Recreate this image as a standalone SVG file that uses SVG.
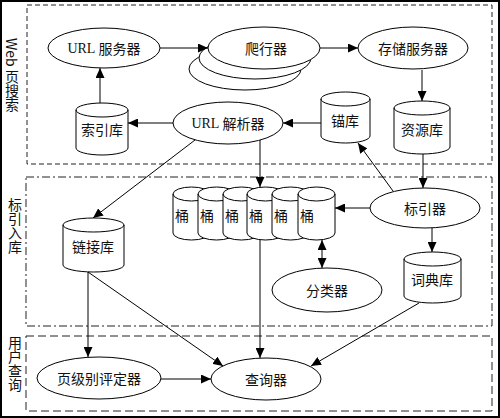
<svg xmlns="http://www.w3.org/2000/svg" width="500" height="418" viewBox="0 0 500 418">
<style>
.sec{fill:none;stroke:#222;stroke-width:1}
.s1{stroke-dasharray:5,3}
.s2{stroke-dasharray:8,3,2,3}
.s3{stroke-dasharray:8,4}
.nd{fill:#fff;stroke:#000;stroke-width:1}
.cap{fill:none;stroke:#000;stroke-width:1}
.t{font-family:"Noto Sans CJK SC","Liberation Sans",sans-serif;font-size:14px;fill:#111;text-anchor:middle;dominant-baseline:central}
.lat{font-family:"Liberation Serif",serif}
.vt{font-family:"Noto Sans CJK SC","Liberation Sans",sans-serif;font-size:14px;fill:#111;writing-mode:vertical-rl}
.c{fill:none;stroke:#000;stroke-width:1}
.a{marker-end:url(#arr)}
.aa{marker-end:url(#arr);marker-start:url(#arr)}
</style>
<defs>
<marker id="arr" viewBox="0 0 10 9" refX="10" refY="4.5" markerWidth="10" markerHeight="9" markerUnits="userSpaceOnUse" orient="auto-start-reverse">
<path d="M0,0 L10,4.5 L0,9 Z" fill="#000"/>
</marker>
</defs>
<rect x="1" y="1" width="498" height="416" fill="#fff" stroke="#000" stroke-width="2"/>

<g id="sections">
<rect class="sec s1" x="27" y="5" width="465" height="159"/>
<rect class="sec s2" x="26" y="177" width="466" height="149"/>
<rect class="sec s3" x="26" y="336" width="466" height="75"/>
<text class="vt" x="12" y="38">Web 页搜索</text>
<text class="vt" x="15" y="198">标引入库</text>
<text class="vt" x="15" y="336">用户查询</text>
</g>

<g id="url-server">
<ellipse class="nd" cx="104" cy="48" rx="56" ry="20"/>
<text class="t" x="104" y="48"><tspan class="lat">URL</tspan> 服务器</text>
</g>
<g id="crawler">
<ellipse class="nd" cx="245" cy="69" rx="56" ry="21"/>
<ellipse class="nd" cx="255" cy="58" rx="56" ry="21"/>
<ellipse class="nd" cx="264" cy="48" rx="56" ry="21"/>
<text class="t" x="266" y="48">爬行器</text>
</g>
<g id="store-server">
<ellipse class="nd" cx="413" cy="48" rx="55" ry="21"/>
<text class="t" x="413" y="48">存储服务器</text>
</g>
<g id="index-db">
<path class="nd" d="M76,110 A26,7 0 0 1 128,110 V148 A26,7 0 0 1 76,148 Z"/>
<path class="cap" d="M76,110 A26,7 0 0 0 128,110"/>
<text class="t" x="102" y="129">索引库</text>
</g>
<g id="url-parser">
<ellipse class="nd" cx="228" cy="123" rx="55" ry="21"/>
<text class="t" x="228" y="123"><tspan class="lat">URL</tspan> 解析器</text>
</g>
<g id="anchor-db">
<path class="nd" d="M321,99 A24.5,7 0 0 1 370,99 V136 A24.5,7 0 0 1 321,136 Z"/>
<path class="cap" d="M321,99 A24.5,7 0 0 0 370,99"/>
<text class="t" x="345" y="120">锚库</text>
</g>
<g id="resource-db">
<path class="nd" d="M394,108 A28,7 0 0 1 450,108 V147 A28,7 0 0 1 394,147 Z"/>
<path class="cap" d="M394,108 A28,7 0 0 0 450,108"/>
<text class="t" x="422" y="129">资源库</text>
</g>
<g id="link-db">
<path class="nd" d="M63,225 A30.5,7 0 0 1 124,225 V265 A30.5,7 0 0 1 63,265 Z"/>
<path class="cap" d="M63,225 A30.5,7 0 0 0 124,225"/>
<text class="t" x="93" y="246">链接库</text>
</g>
<g id="barrels">
<g id="barrel1">
<path class="nd" d="M173,194 A18.5,7 0 0 1 210,194 V233 A18.5,7 0 0 1 173,233 Z"/>
<path class="cap" d="M173,194 A18.5,7 0 0 0 210,194"/>
<text class="t" x="182" y="215">桶</text>
</g>
<g id="barrel2">
<path class="nd" d="M198,194 A18.5,7 0 0 1 235,194 V233 A18.5,7 0 0 1 198,233 Z"/>
<path class="cap" d="M198,194 A18.5,7 0 0 0 235,194"/>
<text class="t" x="207" y="215">桶</text>
</g>
<g id="barrel3">
<path class="nd" d="M223,194 A18.5,7 0 0 1 260,194 V233 A18.5,7 0 0 1 223,233 Z"/>
<path class="cap" d="M223,194 A18.5,7 0 0 0 260,194"/>
<text class="t" x="232" y="215">桶</text>
</g>
<g id="barrel4">
<path class="nd" d="M247,194 A18.5,7 0 0 1 284,194 V233 A18.5,7 0 0 1 247,233 Z"/>
<path class="cap" d="M247,194 A18.5,7 0 0 0 284,194"/>
<text class="t" x="256" y="215">桶</text>
</g>
<g id="barrel5">
<path class="nd" d="M272,194 A18.5,7 0 0 1 309,194 V233 A18.5,7 0 0 1 272,233 Z"/>
<path class="cap" d="M272,194 A18.5,7 0 0 0 309,194"/>
<text class="t" x="281" y="215">桶</text>
</g>
<g id="barrel6">
<path class="nd" d="M298,194 A18.5,7 0 0 1 335,194 V233 A18.5,7 0 0 1 298,233 Z"/>
<path class="cap" d="M298,194 A18.5,7 0 0 0 335,194"/>
<text class="t" x="307" y="215">桶</text>
</g>
</g>
<g id="indexer">
<ellipse class="nd" cx="425" cy="208" rx="55" ry="20"/>
<text class="t" x="425" y="208">标引器</text>
</g>
<g id="lexicon">
<path class="nd" d="M404,259 A28.5,7 0 0 1 461,259 V296 A28.5,7 0 0 1 404,296 Z"/>
<path class="cap" d="M404,259 A28.5,7 0 0 0 461,259"/>
<text class="t" x="432" y="279">词典库</text>
</g>
<g id="sorter">
<ellipse class="nd" cx="327" cy="290" rx="55" ry="22"/>
<text class="t" x="327" y="290">分类器</text>
</g>
<g id="pagerank">
<ellipse class="nd" cx="99" cy="378" rx="62" ry="21"/>
<text class="t" x="99" y="378">页级别评定器</text>
</g>
<g id="searcher">
<ellipse class="nd" cx="266" cy="379" rx="55" ry="21"/>
<text class="t" x="266" y="379">查询器</text>
</g>

<g id="connectors">
<path class="c a" d="M160,48 H208"/>
<path class="c a" d="M320,48 H358"/>
<path class="c a" d="M422,70 V101"/>
<path class="c a" d="M100,103 V68"/>
<path class="c a" d="M173,123 H128"/>
<path class="c a" d="M321,123 H283"/>
<path class="c a" d="M260,140 V187"/>
<path class="c a" d="M195,140 L93,218"/>
<path class="c a" d="M423,154 V188"/>
<path class="c a" d="M393,191 L358,143"/>
<path class="c a" d="M370,208 H335"/>
<path class="c a" d="M432,228 V252"/>
<path class="c aa" d="M322,240 V268"/>
<path class="c a" d="M88,272 V357"/>
<path class="c a" d="M88,272 L223,366"/>
<path class="c a" d="M260,240 V358"/>
<path class="c a" d="M419,303 L311,366"/>
<path class="c a" d="M161,379 H211"/>
</g>
</svg>
